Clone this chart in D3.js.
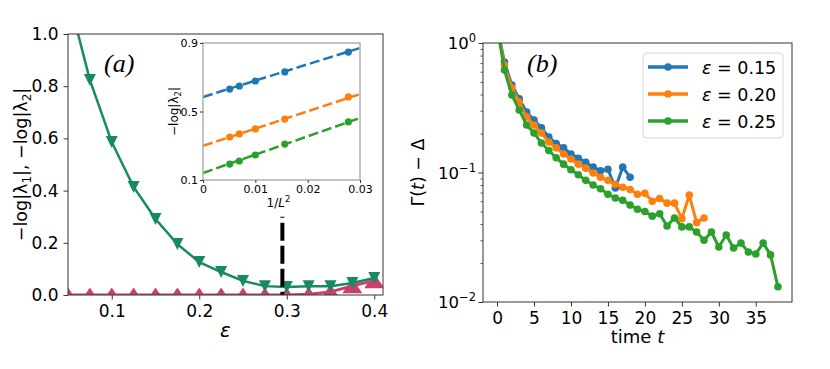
<!DOCTYPE html>
<html><head><meta charset="utf-8">
<script src="https://cdn.jsdelivr.net/npm/d3@7"></script>
<style>body{margin:0;background:#fff} svg{font-family:"DejaVu Sans",sans-serif}</style>
</head><body><svg id="c" width="830" height="369"></svg>
<script>
// ---------- data: panel (a) ----------
const epsValues = [0.05,0.075,0.1,0.125,0.15,0.175,0.2,0.225,0.25,0.275,0.3,0.325,0.35,0.375,0.4];
const gapLambda1 = [1.15,0.824,0.586,0.414,0.291,0.195,0.126,0.088,0.054,0.034,0.031,0.034,0.034,0.046,0.065];
const gapLambda2 = [0,0,0,0,0,0,0,0,0,0,0,0.003,0.012,0.035,0.055];
const epsCritical = 0.295;
const epsCritTop = 0.30;
const xTicksA = [0.1,0.2,0.3,0.4];
const yTicksA = [0,0.2,0.4,0.6,0.8,1.0];
// inset
const invL2 = [1/196,1/144,1/100,1/64,1/36];
const insetBlue = [0.631,0.649,0.678,0.731,0.847];
const insetOrange = [0.351,0.369,0.398,0.456,0.585];
const insetGreen = [0.193,0.211,0.246,0.310,0.439];
const fitAt0 = [0.585,0.299,0.141];
const fitAt003 = [0.871,0.602,0.462];
const insetXTicks = [0,0.01,0.02,0.03];
const insetXTickLabels = ["0","0.01","0.02","0.03"];
const insetYTicks = [0.1,0.5,0.9];
// ---------- data: panel (b) ----------
const gammaEps015 = [1.35,0.713,0.474,0.37,0.293,0.254,0.221,0.188,0.167,0.155,0.139,0.129,0.120,0.110,0.103,0.106,0.076,0.110,0.092];
const gammaEps020 = [1.35,0.676,0.45,0.35,0.268,0.233,0.202,0.172,0.155,0.139,0.127,0.116,0.108,0.099,0.092,0.087,0.081,0.077,0.074,0.068,0.069,0.060,0.063,0.058,0.058,0.044,0.067,0.041,0.0445];
const gammaEps025 = [1.35,0.619,0.397,0.304,0.233,0.202,0.169,0.148,0.130,0.116,0.105,0.096,0.087,0.080,0.075,0.068,0.0635,0.061,0.056,0.052,0.050,0.046,0.048,0.0386,0.0445,0.038,0.038,0.0347,0.030,0.0347,0.0266,0.0329,0.0261,0.0285,0.0243,0.0235,0.0285,0.0231,0.0131];
const legendLabels = ["0.15","0.20","0.25"];
const xTicksB = [0,5,10,15,20,25,30,35];
const yTicksB = [1,0.1,0.01];
const yTickExpB = ["0","\u22121","\u22122"];

const colors = ["#1f77b4","#ff7f0e","#2ca02c"];
const green = "#178a63", pink = "#c9406e";
const serif = "'Liberation Serif','DejaVu Serif',serif";

const svg = d3.select("#c");
svg.append("rect").attr("width",830).attr("height",369).attr("fill","#fff");
const defs = svg.append("defs");

// ================= Panel (a) =================
const A = {l:68, r:383, t:34, b:295};
const xA = d3.scaleLinear().domain([0.05,0.41]).range([A.l,A.r]);
const yA = d3.scaleLinear().domain([0,1]).range([A.b,A.t]);
defs.append("clipPath").attr("id","clipA").append("rect")
  .attr("x",A.l).attr("y",A.t).attr("width",A.r-A.l).attr("height",A.b-A.t);

const gA = svg.append("g");
const plotA = gA.append("g").attr("clip-path","url(#clipA)");
const triUp = "M0,-7.5L10,7.5L-10,7.5Z";
const triDown = "M0,6L6,-6L-6,-6Z";
const lineA = d3.line().x((d,i)=>xA(epsValues[i])).y(d=>yA(d));

plotA.append("path").datum(gapLambda2).attr("d",lineA).attr("fill","none").attr("stroke",pink).attr("stroke-width",3);
plotA.selectAll(".pk").data(gapLambda2).enter().append("path")
  .attr("d",triUp).attr("fill",pink)
  .attr("transform",(d,i)=>`translate(${xA(epsValues[i])},${yA(d)})`);
plotA.append("path").datum(gapLambda1).attr("d",lineA).attr("fill","none").attr("stroke",green).attr("stroke-width",2.5);
plotA.selectAll(".gn").data(gapLambda1).enter().append("path")
  .attr("d",triDown).attr("fill",green)
  .attr("transform",(d,i)=>`translate(${xA(epsValues[i])},${yA(d)})`);

// critical dashed line
gA.append("line").attr("x1",xA(epsCritical)).attr("x2",xA(epsCritical))
  .attr("y1",yA(0)).attr("y2",yA(epsCritTop))
  .attr("stroke","#000").attr("stroke-width",4).attr("stroke-dasharray","18,5").attr("stroke-dashoffset",14.7);

// spines
gA.append("rect").attr("x",A.l).attr("y",A.t).attr("width",A.r-A.l).attr("height",A.b-A.t)
  .attr("fill","none").attr("stroke","#333").attr("stroke-width",1);

// ticks
const axAx = gA.append("g").attr("transform",`translate(0,${A.b})`)
  .call(d3.axisBottom(xA).tickValues(xTicksA).tickFormat(d3.format(".1f")).tickSizeOuter(0).tickSize(4.5).tickPadding(5));
const axAy = gA.append("g").attr("transform",`translate(${A.l},0)`)
  .call(d3.axisLeft(yA).tickValues(yTicksA).tickFormat(d3.format(".1f")).tickSizeOuter(0).tickSize(4.5).tickPadding(5));
[axAx,axAy].forEach(a=>{a.select(".domain").remove();a.selectAll("line").attr("stroke","#333");
  a.selectAll("text").attr("font-size",17).attr("font-family","DejaVu Sans").attr("fill","#000");});

// (a) label
gA.append("text").attr("x",104).attr("y",72).style("font-family",serif)
  .style("font-style","italic").attr("font-size",26).text("(a)");
// x label
gA.append("text").attr("x",(A.l+A.r)/2).attr("y",337).attr("text-anchor","middle")
  .attr("font-size",20).attr("font-style","italic").text("\u03b5");
// y label
const ylA = gA.append("text").attr("transform",`translate(27,${(A.t+A.b)/2}) rotate(-90)`)
  .attr("text-anchor","middle").attr("font-size",17.5);
ylA.append("tspan").text("\u2212log|\u03bb");
ylA.append("tspan").attr("font-size",12).attr("dy",4).text("1");
ylA.append("tspan").attr("dy",-4).text("|, \u2212log|\u03bb");
ylA.append("tspan").attr("font-size",12).attr("dy",4).text("2");
ylA.append("tspan").attr("dy",-4).text("|");

// ---------- inset ----------
const I = {l:203, r:360, t:43, b:180};
const xI = d3.scaleLinear().domain([0,0.03]).range([I.l,I.r]);
const yI = d3.scaleLinear().domain([0.1,0.9]).range([I.b,I.t]);
const gI = svg.append("g");
gI.append("rect").attr("x",I.l).attr("y",I.t).attr("width",I.r-I.l).attr("height",I.b-I.t).attr("fill","#fff");
defs.append("clipPath").attr("id","clipI").append("rect")
  .attr("x",I.l).attr("y",I.t).attr("width",I.r-I.l).attr("height",I.b-I.t);
const plotI = gI.append("g").attr("clip-path","url(#clipI)");
[insetBlue,insetOrange,insetGreen].forEach((s,k)=>{
  plotI.append("line").attr("x1",xI(0)).attr("x2",xI(0.03)).attr("y1",yI(fitAt0[k])).attr("y2",yI(fitAt003[k]))
    .attr("stroke",colors[k]).attr("stroke-width",2.5).attr("stroke-dasharray","10,4");
  plotI.selectAll(null).data(s).enter().append("circle")
    .attr("cx",(d,i)=>xI(invL2[i])).attr("cy",d=>yI(d)).attr("r",3.6).attr("fill",colors[k]);
});
gI.append("rect").attr("x",I.l).attr("y",I.t).attr("width",I.r-I.l).attr("height",I.b-I.t)
  .attr("fill","none").attr("stroke","#b0b0b0").attr("stroke-width",1.5);
const axIx = gI.append("g").attr("transform",`translate(0,${I.b})`)
  .call(d3.axisBottom(xI).tickValues(insetXTicks).tickFormat((d,i)=>insetXTickLabels[i]).tickSizeOuter(0).tickSize(3).tickPadding(2));
const axIy = gI.append("g").attr("transform",`translate(${I.l},0)`)
  .call(d3.axisLeft(yI).tickValues(insetYTicks).tickFormat(d3.format(".1f")).tickSizeOuter(0).tickSize(3).tickPadding(2));
[axIx,axIy].forEach(a=>{a.select(".domain").remove();a.selectAll("line").attr("stroke","#333");
  a.selectAll("text").attr("font-size",11).attr("font-family","DejaVu Sans").attr("fill","#000");});
const xlI = gI.append("text").attr("x",(I.l+I.r)/2-3).attr("y",207).attr("text-anchor","middle").attr("font-size",12);
xlI.append("tspan").text("1/");
xlI.append("tspan").attr("font-style","italic").text("L");
xlI.append("tspan").attr("font-size",8.5).attr("dy",-5).text("2");
const ylI = gI.append("text").attr("transform",`translate(178,${(I.t+I.b)/2}) rotate(-90)`)
  .attr("text-anchor","middle").attr("font-size",12);
ylI.append("tspan").text("\u2212log|\u03bb");
ylI.append("tspan").attr("font-size",8.5).attr("dy",3).text("2");
ylI.append("tspan").attr("dy",-3).text("|");

// ================= Panel (b) =================
const B = {l:483, r:792, t:43, b:302};
const xB = d3.scaleLinear().domain([-1.9,39.9]).range([B.l,B.r]);
const yB = d3.scaleLog().domain([0.01,1]).range([B.b,B.t]);
defs.append("clipPath").attr("id","clipB").append("rect")
  .attr("x",B.l).attr("y",B.t).attr("width",B.r-B.l).attr("height",B.b-B.t);
const gB = svg.append("g");
const plotB = gB.append("g").attr("clip-path","url(#clipB)");
const lineB = d3.line().x((d,i)=>xB(i)).y(d=>yB(d));
[gammaEps015,gammaEps020,gammaEps025].forEach((s,k)=>{
  plotB.append("path").datum(s).attr("d",lineB).attr("fill","none").attr("stroke",colors[k])
    .attr("stroke-width",3).attr("stroke-linejoin","round");
  plotB.selectAll(null).data(s).enter().append("circle")
    .attr("cx",(d,i)=>xB(i)).attr("cy",d=>yB(d)).attr("r",3.8).attr("fill",colors[k]);
});
gB.append("rect").attr("x",B.l).attr("y",B.t).attr("width",B.r-B.l).attr("height",B.b-B.t)
  .attr("fill","none").attr("stroke","#333").attr("stroke-width",1);
const axBx = gB.append("g").attr("transform",`translate(0,${B.b})`)
  .call(d3.axisBottom(xB).tickValues(xTicksB).tickSizeOuter(0).tickSize(4.5).tickPadding(5));
axBx.select(".domain").remove(); axBx.selectAll("line").attr("stroke","#333");
axBx.selectAll("text").attr("font-size",17).attr("font-family","DejaVu Sans").attr("fill","#000");
// y major ticks with superscripts
const minorB = [];
[0.01,0.1].forEach(dec=>{for(let m=2;m<=9;m++) minorB.push(dec*m);});
const axBy = gB.append("g").attr("transform",`translate(${B.l},0)`)
  .call(d3.axisLeft(yB).tickValues(yTicksB).tickFormat("").tickSizeOuter(0).tickSize(4.5));
axBy.select(".domain").remove(); axBy.selectAll("line").attr("stroke","#333");
gB.append("g").attr("transform",`translate(${B.l},0)`)
  .call(d3.axisLeft(yB).tickValues(minorB).tickFormat("").tickSizeOuter(0).tickSize(2.5))
  .call(g=>{g.select(".domain").remove(); g.selectAll("line").attr("stroke","#333").attr("stroke-width",0.8);});
yTicksB.forEach((v,i)=>{
  const t = gB.append("text").attr("x",B.l-7).attr("y",yB(v)+6).attr("text-anchor","end").attr("font-size",16.5);
  t.append("tspan").text("10");
  t.append("tspan").attr("font-size",11.5).attr("dy",-7).text(yTickExpB[i]);
});
// labels
gB.append("text").attr("x",527).attr("y",72).style("font-family",serif)
  .style("font-style","italic").attr("font-size",26).text("(b)");
const xlB = gB.append("text").attr("x",(B.l+B.r)/2).attr("y",343).attr("text-anchor","middle").attr("font-size",18);
xlB.append("tspan").text("time ");
xlB.append("tspan").attr("font-style","italic").text("t");
const ylB = gB.append("text").attr("transform",`translate(424,${(B.t+B.b)/2}) rotate(-90)`)
  .attr("text-anchor","middle").attr("font-size",17.5);
ylB.append("tspan").text("\u0393(");
ylB.append("tspan").attr("font-style","italic").text("t");
ylB.append("tspan").text(") \u2212 \u0394");

// legend
const lg = gB.append("g");
lg.append("rect").attr("x",643).attr("y",53).attr("width",140).attr("height",85).attr("rx",4)
  .attr("fill","#fff").attr("fill-opacity",0.8).attr("stroke","#d5d5d5").attr("stroke-width",1);
legendLabels.forEach((lab,k)=>{
  const y = 67 + k*27;
  lg.append("line").attr("x1",648).attr("x2",688).attr("y1",y).attr("y2",y).attr("stroke",colors[k]).attr("stroke-width",3.5);
  lg.append("circle").attr("cx",668).attr("cy",y).attr("r",3.8).attr("fill",colors[k]);
  const t = lg.append("text").attr("x",702).attr("y",y+6.5).attr("font-size",17.5);
  t.append("tspan").attr("font-style","italic").text("\u03b5");
  t.append("tspan").text(" = " + lab);
});
</script></body></html>
